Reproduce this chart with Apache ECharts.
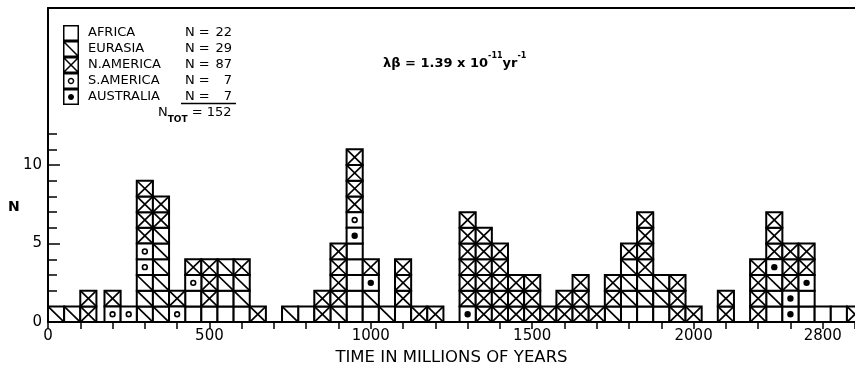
<!DOCTYPE html>
<html>
<head>
<meta charset="utf-8">
<style>
html,body{margin:0;padding:0;background:#fff;}
#c{width:855px;height:371px;}
</style>
<script src="https://cdn.jsdelivr.net/npm/echarts@6.0.0/dist/echarts.min.js"></script>
</head>
<body>
<div id="c"></div>
<script>
// ---- DATA ----
const binWidth = 50; // Myr per histogram cell
// left edge (Myr) of each histogram column
const colStarts = [0,50,100,175,225,275,325,375,425,475,525,575,625,725,775,825,875,925,975,1025,1075,1125,1175,1275,1325,1375,1425,1475,1525,1575,1625,1675,1725,1775,1825,1875,1925,1975,2075,2175,2225,2275,2325,2375,2425,2475];
// cells of each column, bottom to top: A=Africa, E=Eurasia, N=N.America, S=S.America, U=Australia
const colCells = ['E','E','NN','SN','S','EEESSNNNN','EEEEEENN','SN','AASN','ANNN','AAEE','AEEN','N','E','A','NN','ENNNN','AAAAAUSNNNN','AEUN','E','ANNN','N','N','UNNNNNN','NNNNNN','NNNNN','NNN','NNN','N','NN','NNN','N','ENN','AEEEN','AEENNNN','AEE','NNN','N','NN','NNNN','AEEUNNN','UUNNN','AAUNN','A','A','N'];
const continentNames = ['AFRICA','EURASIA','N.AMERICA','S.AMERICA','AUSTRALIA'];
const continentCodes = ['A','E','N','S','U'];
const continentCounts = [22,29,87,7,7];
const totalCount = 152;
const xLabelValues = [0,500,1000,1500,2000,2400];
const xLabelTexts = ['0','500','1000','1500','2000','2800'];
const yLabelValues = [0,5,10];
const yMinorTicks = [1,2,3,4,6,7,8,9,11,12];

const FONT = 'DejaVu Sans';

function cellsFor(code){
  const out = [];
  colStarts.forEach((x, i) => {
    const s = colCells[i];
    for (let k = 0; k < s.length; k++) if (s[k] === code) out.push([x, k]);
  });
  return out;
}

function makeRender(code){
  return function(params, api){
    const x = api.value(0), lv = api.value(1);
    const tl = api.coord([x, lv + 1]);
    const br = api.coord([x + binWidth, lv]);
    const x0 = tl[0], y0 = tl[1], w = br[0] - tl[0], h = br[1] - tl[1];
    const ch = [{type:'rect', shape:{x:x0, y:y0, width:w, height:h}, style:{fill:'#fff', stroke:'#000', lineWidth:2}}];
    const ls = {stroke:'#000', lineWidth:1.7};
    if (code === 'N' || code === 'E') {
      ch.push({type:'line', shape:{x1:x0, y1:y0, x2:x0 + w, y2:y0 + h}, style:ls});
    }
    if (code === 'N') {
      ch.push({type:'line', shape:{x1:x0 + w, y1:y0, x2:x0, y2:y0 + h}, style:ls});
    }
    if (code === 'S') {
      ch.push({type:'circle', shape:{cx:x0 + w/2, cy:y0 + h/2, r:2.4}, style:{fill:'#fff', stroke:'#000', lineWidth:1.6}});
    }
    if (code === 'U') {
      ch.push({type:'circle', shape:{cx:x0 + w/2, cy:y0 + h/2, r:3.2}, style:{fill:'#000'}});
    }
    return {type:'group', children:ch};
  };
}

function iconURL(code){
  const s = 32;
  const cv = document.createElement('canvas');
  cv.width = s; cv.height = s;
  const g = cv.getContext('2d');
  g.fillStyle = '#fff'; g.fillRect(0,0,s,s);
  g.strokeStyle = '#000'; g.fillStyle = '#000';
  g.lineWidth = 3;
  g.strokeRect(1.5,1.5,s-3,s-3);
  if (code === 'N' || code === 'E') { g.beginPath(); g.moveTo(0,0); g.lineTo(s,s); g.stroke(); }
  if (code === 'N') { g.beginPath(); g.moveTo(s,0); g.lineTo(0,s); g.stroke(); }
  if (code === 'S') { g.beginPath(); g.arc(s/2,s/2,5,0,Math.PI*2); g.stroke(); }
  if (code === 'U') { g.beginPath(); g.arc(s/2,s/2,6,0,Math.PI*2); g.fill(); }
  return 'image://' + cv.toDataURL();
}

const chart = echarts.init(document.getElementById('c'), null, {renderer:'canvas'});

const option = {
  animation: false,
  backgroundColor: '#fff',
  textStyle: {fontFamily: FONT, color:'#000'},
  grid: {left:48, right:0, top:8, bottom:48},
  legend: {
    data: continentNames.map((n,i) => ({name:n, icon: iconURL(continentCodes[i])})),
    orient: 'vertical',
    left: 63, top: 25, padding: 0,
    itemGap: 0, itemWidth: 16, itemHeight: 16,
    selectedMode: false,
    formatter: function(name){
      const i = continentNames.indexOf(name);
      return '{a|' + name + '}{b|N =}{c|' + continentCounts[i] + '}';
    },
    textStyle: {
      fontFamily: FONT, fontSize: 13, color:'#000', lineHeight: 16,
      rich: {
        a: {fontFamily: FONT, fontSize: 13, color:'#000', width: 97, padding:[0,0,0,4], lineHeight:16},
        b: {fontFamily: FONT, fontSize: 13, color:'#000', width: 26, lineHeight:16},
        c: {fontFamily: FONT, fontSize: 13, color:'#000', width: 21, align:'right', lineHeight:16}
      }
    }
  },
  xAxis: [{
    type:'value', min:0, max:2500, interval:100,
    axisLine:{show:true, onZero:false, lineStyle:{color:'#000', width:2}},
    axisTick:{show:true, length:7, lineStyle:{color:'#000', width:1.5}},
    axisLabel:{customValues: xLabelValues, formatter: v => xLabelTexts[xLabelValues.indexOf(v)], fontFamily: FONT, fontSize:15, color:'#000', margin:7},
    splitLine:{show:false},
    name:'TIME IN MILLIONS OF YEARS', nameLocation:'middle', nameGap:23,
    nameTextStyle:{fontFamily: FONT, fontSize:16.5, color:'#000'}
  },{
    type:'value', position:'top', min:0, max:2500,
    axisLine:{show:true, onZero:false, lineStyle:{color:'#000', width:2}},
    axisTick:{show:false}, axisLabel:{show:false}, splitLine:{show:false}
  }],
  yAxis: [{
    type:'value', min:0, max:20, interval:1,
    axisLine:{show:true, onZero:false, lineStyle:{color:'#000', width:2}},
    axisTick:{show:true, inside:true, length:12, customValues: yLabelValues, lineStyle:{color:'#000', width:1.5}},
    axisLabel:{customValues: yLabelValues, fontFamily: FONT, fontSize:15, color:'#000', margin:6},
    splitLine:{show:false}
  },{
    type:'value', position:'left', min:0, max:20, interval:1,
    axisLine:{show:false},
    axisTick:{show:true, inside:true, length:9, customValues: yMinorTicks, lineStyle:{color:'#000', width:1.5}},
    axisLabel:{show:false}, splitLine:{show:false}
  }],
  series: continentCodes.map((code, i) => ({
    type:'custom', name: continentNames[i],
    xAxisIndex:0, yAxisIndex:0,
    renderItem: makeRender(code),
    data: cellsFor(code)
  })),
  graphic: [
    {type:'text', left: 383, top: 52, style:{
      text:'{a|λβ = 1.39 x 10}{s|-11}{a|yr}{s|-1}',
      rich:{
        a:{fontFamily: FONT, fontSize:13, fontWeight:'bold', fill:'#000', lineHeight:18, verticalAlign:'bottom'},
        s:{fontFamily: FONT, fontSize:8, fontWeight:'bold', fill:'#000', lineHeight:18, verticalAlign:'top'}
      }
    }},
    {type:'text', left: 8, top: 200, style:{text:'N', fontFamily: FONT, fontSize:14, fontWeight:'bold', fill:'#000'}},
    {type:'line', shape:{x1:181, y1:103.5, x2:236, y2:103.5}, style:{stroke:'#000', lineWidth:1.6}},
    {type:'text', left: 158, top: 106, style:{
      text:'{n|N}{s|TOT}{e| = ' + totalCount + '}',
      rich:{
        n:{fontFamily: FONT, fontSize:13, fill:'#000', lineHeight:18, verticalAlign:'top'},
        s:{fontFamily: FONT, fontSize:9, fontWeight:'bold', fill:'#000', lineHeight:18, verticalAlign:'bottom'},
        e:{fontFamily: FONT, fontSize:13, fill:'#000', lineHeight:18, verticalAlign:'top'}
      }
    }}
  ]
};
chart.setOption(option);
</script>
</body>
</html>
